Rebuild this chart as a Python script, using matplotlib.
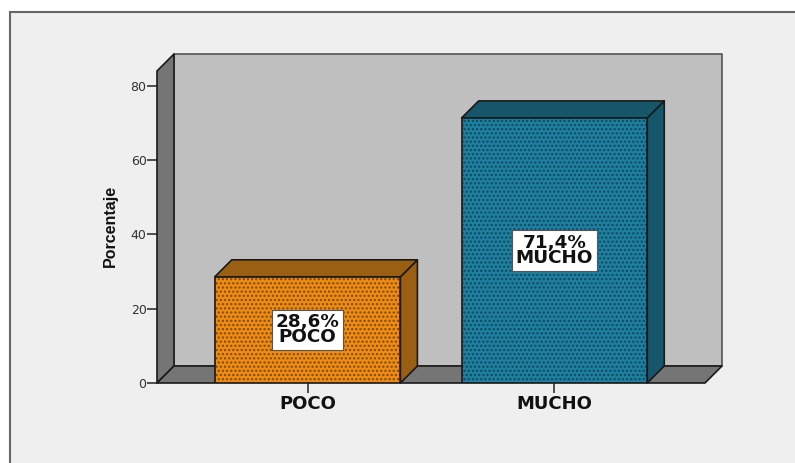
import matplotlib
matplotlib.use('Agg')
import matplotlib.pyplot as plt
from matplotlib.patches import Polygon, Rectangle

categories = ['POCO', 'MUCHO']
percentages = [28.6, 71.4]
bar_labels = ['28,6%\nPOCO', '71,4%\nMUCHO']
y_ticks = [0, 20, 40, 60, 80]

front_colors = ['#f08c10', '#1f7f9f']
dot_colors = ['#7a4a10', '#0f4a62']
side_colors = ['#9a5f12', '#15566b']

W, H = 795, 463
# depth of the 3d box, in pixels
DEPTH = 17

plt.rcParams['font.family'] = ['DejaVu Sans']
plt.rcParams['hatch.linewidth'] = 1.1

fig = plt.figure(figsize=(W / 100, H / 100), dpi=100, facecolor='white')

# grey chart area, its right and bottom edges run off the picture
fig.add_artist(Rectangle((10 / W, -0.05), 1, 1.05 - 12 / H, transform=fig.transFigure,
                         facecolor='#efefef', edgecolor='#666666', linewidth=1.5, zorder=-1))

ax = fig.add_axes([157 / W, 1 - 383 / H, 548 / W, 312 / H])
ax.set_xlim(-0.61, 1.61)
ax.set_ylim(0, 84.04)
ax.patch.set_visible(False)
for s in ax.spines.values():
    s.set_visible(False)

dx = DEPTH * 2.22 / 548
dy = DEPTH * 84.04 / 312
x0, x1 = ax.get_xlim()
y1 = ax.get_ylim()[1]


def poly(points, color, z, edge='#1a1a1a'):
    ax.add_patch(Polygon(points, closed=True, facecolor=color, edgecolor=edge,
                         linewidth=1.2, zorder=z, clip_on=False, joinstyle='round'))


# back wall, left wall, floor
poly([(x0 + dx, dy), (x1 + dx, dy), (x1 + dx, y1 + dy), (x0 + dx, y1 + dy)], '#bfbfbf', 1, '#555555')
poly([(x0, 0), (x0 + dx, dy), (x0 + dx, y1 + dy), (x0, y1)], '#757575', 2)
poly([(x0, 0), (x1, 0), (x1 + dx, dy), (x0 + dx, dy)], '#757575', 2)

width = 0.752
for i, val in enumerate(percentages):
    left, right = i - width / 2, i + width / 2
    poly([(right, 0), (right + dx, dy), (right + dx, val + dy), (right, val)], side_colors[i], 3)
    poly([(left, val), (right, val), (right + dx, val + dy), (left + dx, val + dy)], side_colors[i], 3)
    ax.bar(i, val, width=width, color=front_colors[i], edgecolor=dot_colors[i], hatch='....',
           linewidth=0, zorder=4)
    ax.add_patch(Rectangle((left, 0), width, val, fill=False, edgecolor='#1a1a1a', linewidth=1.2, zorder=5))
    ax.text(i, val / 2, bar_labels[i], ha='center', va='center', fontsize=13.2, fontweight='bold',
            color='#111111', linespacing=0.78, zorder=6,
            bbox=dict(boxstyle='square,pad=0.2', facecolor='white', edgecolor='#555555', linewidth=0.8))

ax.set_xticks(range(len(categories)))
ax.set_xticklabels(categories, fontsize=13, fontweight='bold', color='#111111')
ax.set_yticks(y_ticks)
ax.tick_params(axis='x', length=7, width=1.2, color='#333333', pad=1.5)
ax.tick_params(axis='y', length=7, width=1.2, color='#333333', pad=0.5, labelsize=9, labelcolor='#333333')
ax.set_ylabel('Porcentaje', fontsize=11.5, fontweight='bold', color='#111111',
              family='Liberation Sans')
ax.yaxis.set_label_coords(-0.071, 0.503)

fig.savefig('out.png', dpi=100, facecolor='white')
